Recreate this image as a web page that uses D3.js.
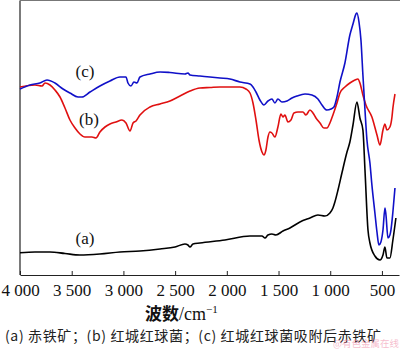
<!DOCTYPE html>
<html><head><meta charset="utf-8">
<script src="https://cdn.jsdelivr.net/npm/d3@7"></script>
<style>
html,body{margin:0;padding:0;background:#fff;}
svg{display:block;}
</style></head>
<body>
<svg id="chart" width="400" height="349"></svg>
<script>
// Wavenumber (cm^-1) and relative transmittance (a.u.)
const xTicks = [4000, 3500, 3000, 2500, 2000, 1500, 1000, 500];
const tickLabels = ["4 000", "3 500", "3 000", "2 500", "2 000", "1 500", "1 000", "500"];

const waveA = [4000,3855,3710,3565,3420,3227,3033,2840,2646,2501,2405,2376,2356,2327,2260,2018,1776,1660,1631,1602,1564,1525,1457,1390,1293,1196,1119,1051,1003,974,955,925,887,838,810,780,742,713,684,664,635,616,568,519,490,471,452,423,394,365];
const transA = [22.3,23,23,21.5,20,21,23,24,26,28,31,30,28,31,32,35,39,39,37,40,41,40,44,47,53,57,60,59,62,67,73,85,102,123,133,150,173,157,145,105,45,32,19,15,20,28,17,17,35,57];

const waveB = [4000,3855,3787,3758,3710,3662,3613,3565,3517,3468,3420,3372,3304,3265,3227,3178,3130,3072,3014,2975,2936,2907,2878,2840,2743,2646,2550,2453,2356,2260,2163,2066,1970,1873,1815,1776,1747,1718,1689,1660,1641,1622,1602,1583,1564,1535,1506,1477,1457,1438,1409,1380,1351,1312,1264,1235,1196,1167,1138,1099,1061,1032,1003,974,935,906,858,810,761,732,713,684,655,597,548,519,490,471,452,423,403,394,374];
const transB = [188,190,189,192,190,185,178,167,155,147,141,138,138,137,143,148,151,153,155,152,144,152,154,160,168,171,174,179,184,187,187.5,188,188,188,186,182,172,155,135,123,120,125,138,143,142,138,148,161,158,160,153,155,162,163,163,160,165,162,157,152,147,147,152,160,172,182,188,192,195,196,192,180,170,158,140,130,145,151,145,148,158,167,181];

const waveC = [4000,3903,3807,3739,3662,3584,3517,3439,3401,3323,3227,3130,3033,2975,2956,2927,2898,2869,2840,2743,2646,2550,2405,2376,2356,2260,2163,2066,1970,1873,1776,1747,1718,1680,1641,1602,1564,1535,1506,1467,1418,1370,1322,1244,1177,1119,1080,1032,993,964,935,906,858,810,780,751,742,722,703,684,664,645,616,597,568,548,529,510,490,471,461,442,423,413,394,374];
const transC = [186,190,192,195,192,186,182,178,178,183,189,194,198,198,192,189,193,192,198,201,203,202.5,201,202,200,199,198,197,196,193,191,188,183,175,170,174,176,172,176,173,174,177,179,181,180,176,170,165,166,168,178,193,212,240,251,261,262,253,235,200,165,135,112,90,62,43,30,33,45,67,60,37,40,45,63,87];

const seriesNames = ["(a)", "(b)", "(c)"];
const seriesColors = ["#000000", "#e01010", "#1010c8"];
const xTitleCN = "波数";
const xTitleUnit = "/cm";
const xTitleSup = "−1";
const caption = "(a) 赤铁矿；(b) 红城红球菌；(c) 红城红球菌吸附后赤铁矿";
const watermark = "@有色金属在线";

const svg = d3.select("#chart");
const L = 20, R = 399, T = 0.5, B = 275;
const x = d3.scaleLinear().domain([4000, 335]).range([L, R]);
const y = d3.scaleLinear().domain([0, 275]).range([B, 0]);

const latin = "'Liberation Serif','Times New Roman',serif";
const cjk = "'Noto Sans CJK SC','Liberation Serif',sans-serif";

// frame: left, top, bottom
svg.append("line").attr("x1", L).attr("x2", L).attr("y1", T).attr("y2", B)
  .attr("stroke", "#222").attr("stroke-width", 1.2);
svg.append("line").attr("x1", L).attr("x2", R + 1).attr("y1", T).attr("y2", T)
  .attr("stroke", "#777").attr("stroke-width", 1);

const xAxis = d3.axisBottom(x).tickValues(xTicks)
  .tickFormat((d, i) => tickLabels[i]).tickSizeInner(-4).tickSizeOuter(0).tickPadding(9);
const gx = svg.append("g").attr("transform", `translate(0,${B})`).call(xAxis);
gx.select(".domain").attr("stroke", "#222").attr("stroke-width", 1.2);
gx.selectAll(".tick line").attr("stroke", "#222");
gx.selectAll(".tick text").attr("font-family", latin).attr("font-size", 17).attr("fill", "#111");

const line = d3.line().x(d => x(d[0])).y(d => y(d[1])).curve(d3.curveMonotoneX);
const data = [
  d3.zip(waveA, transA),
  d3.zip(waveB, transB),
  d3.zip(waveC, transC)
];
data.forEach((pts, i) => {
  const sorted = pts.slice().sort((p, q) => q[0] - p[0]);
  svg.append("path").datum(sorted).attr("d", line)
    .attr("fill", "none").attr("stroke", seriesColors[i])
    .attr("stroke-width", 1.6).attr("stroke-linejoin", "round");
});

// curve labels
const labelPos = [[3372, 244], [3333, 125], [3372, 77]];
seriesNames.forEach((n, i) => {
  svg.append("text").attr("x", x(labelPos[i][0])).attr("y", labelPos[i][1])
    .attr("text-anchor", "middle").attr("font-family", latin).attr("font-size", 17)
    .attr("fill", "#111").text(n);
});

// axis title
const tt = svg.append("text").attr("x", 145).attr("y", 320).attr("fill", "#111");
tt.append("tspan").attr("font-family", cjk).attr("font-weight", "bold").attr("font-size", 17).text(xTitleCN);
tt.append("tspan").attr("font-family", latin).attr("font-size", 18).text(xTitleUnit);
tt.append("tspan").attr("font-family", latin).attr("font-size", 11).attr("dy", -7).text(xTitleSup);

// caption
svg.append("text").attr("x", 5).attr("y", 341).attr("font-family", cjk)
  .attr("font-size", 14).attr("textLength", 376).attr("lengthAdjust", "spacing")
  .attr("fill", "#222").text(caption);

// watermark
svg.append("text").attr("x", 333).attr("y", 347).attr("font-family", cjk)
  .attr("font-size", 9.5).attr("fill", "#f08aa8").attr("opacity", 0.55).text(watermark);
</script>
</body></html>
